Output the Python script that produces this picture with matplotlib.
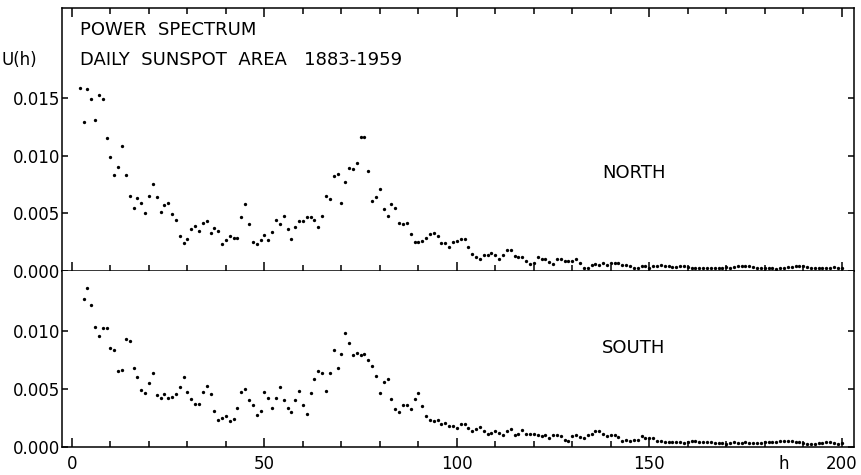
import numpy as np
import matplotlib.pyplot as plt
from matplotlib.ticker import MultipleLocator

# power spectrum values (units of 1e-3), one per period h
north_h = np.arange(2, 201)
north_u = [
    15.9, 12.9, 15.8, 14.9, 13.1, 15.3, 14.9, 11.5, 9.9, 8.3,
    9.0, 10.8, 8.3, 6.5, 5.5, 6.3, 5.9, 5.0, 6.5, 7.5,
    6.4, 5.1, 5.7, 5.9, 4.9, 4.4, 3.0, 2.4, 2.8, 3.6,
    3.9, 3.5, 4.2, 4.3, 3.3, 3.7, 3.5, 2.3, 2.7, 3.0,
    2.9, 2.9, 4.7, 5.8, 4.1, 2.5, 2.3, 2.7,
    # h = 50..101
    3.1, 2.7, 3.4, 4.4, 4.1, 4.8, 3.6, 2.8, 3.8, 4.3,
    4.3, 4.7, 4.7, 4.4, 3.8, 4.8, 6.5, 6.2, 8.2, 8.4,
    5.9, 7.7, 8.9, 8.8, 9.4, 11.6, 11.6, 8.7, 6.1, 6.4,
    7.1, 5.4, 4.8, 5.8, 5.5, 4.2, 4.1, 4.2, 3.2, 2.5,
    2.5, 2.6, 2.9, 3.2, 3.3, 3.0, 2.4, 2.4, 2.1, 2.5,
    2.6, 2.8,
    # h = 102..150
    2.8, 2.1, 1.5, 1.2, 1.0, 1.4, 1.4, 1.6, 1.4,
    1.0, 1.4, 1.8, 1.8, 1.3, 1.2, 1.2, 0.9, 0.6, 0.7,
    1.2, 1.0, 1.0, 0.8, 0.6, 1.0, 1.0, 0.9, 0.9, 0.9,
    1.0, 0.7, 0.3, 0.3, 0.5, 0.6, 0.5, 0.7, 0.5, 0.7,
    0.7, 0.7, 0.5, 0.5, 0.4, 0.3, 0.3, 0.4, 0.4, 0.3,
    # h = 151..200
    0.4, 0.45, 0.5, 0.45, 0.4, 0.35, 0.35, 0.4, 0.4, 0.35,
    0.3, 0.25, 0.3, 0.3, 0.3, 0.3, 0.3, 0.3, 0.3, 0.35,
    0.3, 0.35, 0.4, 0.45, 0.45, 0.4, 0.35, 0.3, 0.3, 0.3,
    0.3, 0.25, 0.2, 0.25, 0.3, 0.35, 0.35, 0.4, 0.45, 0.4,
    0.35, 0.3, 0.25, 0.25, 0.3, 0.3, 0.3, 0.35, 0.3, 0.25,
]

south_h = np.arange(3, 201)
south_u = [
    12.7, 13.7, 12.2, 10.3, 9.5, 10.2, 10.2, 8.5, 8.3, 6.5,
    6.6, 9.3, 9.1, 6.8, 6.0, 4.9, 4.6, 5.5, 6.3, 4.4,
    4.2, 4.5, 4.2, 4.3, 4.5, 5.1, 6.0, 4.7, 4.1, 3.7,
    3.7, 4.7, 5.2, 4.5, 3.1, 2.3, 2.5, 2.6, 2.2, 2.4,
    3.3, 4.7, 5.0, 4.0, 3.6, 2.7, 3.1,
    # h = 50..101
    4.7, 4.2, 3.3, 4.2, 5.1, 4.0, 3.3, 3.0, 4.0, 4.8,
    3.6, 2.8, 4.6, 5.8, 6.5, 6.3, 4.8, 6.3, 8.3, 6.8,
    8.0, 9.8, 8.9, 7.9, 8.1, 7.9, 8.0, 7.5, 6.9, 6.1,
    4.6, 5.6, 5.8, 4.1, 3.2, 3.0, 3.6, 3.6, 3.2, 4.1,
    4.6, 3.5, 2.6, 2.3, 2.2, 2.3, 1.9, 2.0, 1.8, 1.8,
    1.6, 1.9,
    # h = 102..150
    1.9, 1.6, 1.3, 1.5, 1.7, 1.3, 1.1, 1.2, 1.3,
    1.2, 1.0, 1.3, 1.5, 1.0, 1.1, 1.4, 1.1, 1.1, 1.1,
    1.0, 0.9, 1.0, 0.7, 1.0, 1.0, 0.9, 0.6, 0.5, 0.9,
    1.0, 0.8, 0.7, 1.0, 1.1, 1.3, 1.3, 1.1, 0.9, 1.0,
    1.0, 0.8, 0.5, 0.6, 0.5, 0.6, 0.6, 0.9, 0.7, 0.7,
    # h = 151..200
    0.7, 0.5, 0.5, 0.4, 0.4, 0.4, 0.35, 0.35, 0.3, 0.35,
    0.45, 0.5, 0.4, 0.35, 0.35, 0.35, 0.3, 0.3, 0.3, 0.25,
    0.3, 0.35, 0.3, 0.3, 0.35, 0.3, 0.3, 0.3, 0.3, 0.35,
    0.35, 0.4, 0.4, 0.45, 0.45, 0.5, 0.45, 0.4, 0.35, 0.3,
    0.25, 0.2, 0.25, 0.3, 0.3, 0.35, 0.4, 0.3, 0.25, 0.3,
]

x_ticks = [0, 50, 100, 150, 200]
y_ticks_top = [0.0, 0.005, 0.010, 0.015]
y_ticks_bot = [0.0, 0.005, 0.010]

plt.rcParams['font.family'] = 'DejaVu Sans'
plt.rcParams['font.size'] = 12

W, H = 862, 475
fig = plt.figure(figsize=(W / 100, H / 100), dpi=100)
left, right = 62, 854
top, mid, bot = 8, 271, 446.5
ax1 = fig.add_axes([left / W, 1 - mid / H, (right - left) / W, (mid - top) / H])
ax2 = fig.add_axes([left / W, 1 - bot / H, (right - left) / W, (bot - mid) / H])

for ax, h, u in ((ax1, north_h, north_u), (ax2, south_h, south_u)):
    ax.plot(h, np.array(u) * 1e-3, 'o', ms=2.4, color='black', mec='none')
    ax.set_xlim(-2.6, 203.2)
    ax.xaxis.set_major_locator(MultipleLocator(50))
    ax.xaxis.set_minor_locator(MultipleLocator(10))
    ax.tick_params(which='both', direction='in', width=1.1, color='black',
                   labelsize=12, right=True)
    ax.tick_params(axis='x', which='major', length=6.5)
    ax.tick_params(axis='x', which='minor', length=4)
    ax.tick_params(axis='y', which='major', length=4, pad=1)
    for s in ax.spines.values():
        s.set_linewidth(1.1)
    ax.yaxis.set_major_formatter(plt.FuncFormatter(lambda v, p: '%.3f' % v))

ax1.set_ylim(0, 0.0228)
ax1.set_yticks(y_ticks_top)
ax1.tick_params(axis='x', which='both', top=True, labelbottom=False)

ax2.set_ylim(0, 0.01513)
ax2.set_yticks(y_ticks_bot)
ax2.set_xticks(x_ticks)
ax2.tick_params(axis='x', pad=6)
ax2.spines['top'].set_visible(False)

ax2.annotate('h', xy=(185, 0), xycoords=('data', 'axes fraction'),
             xytext=(0, -6), textcoords='offset points', ha='center', va='top',
             fontsize=12)

ax1.text(146, 0.0085, 'NORTH', ha='center', va='center', fontsize=13)
ax2.text(146, 0.0085, 'SOUTH', ha='center', va='center', fontsize=13)

fig.text(80 / W, 1 - 30 / H, 'POWER  SPECTRUM', ha='left', va='center', fontsize=13)
fig.text(80 / W, 1 - 60 / H, 'DAILY  SUNSPOT  AREA   1883-1959', ha='left', va='center',
         fontsize=13)
fig.text(2 / W, 1 - 60 / H, 'U(h)', ha='left', va='center', fontsize=12)

fig.savefig('out.png', dpi=100)
